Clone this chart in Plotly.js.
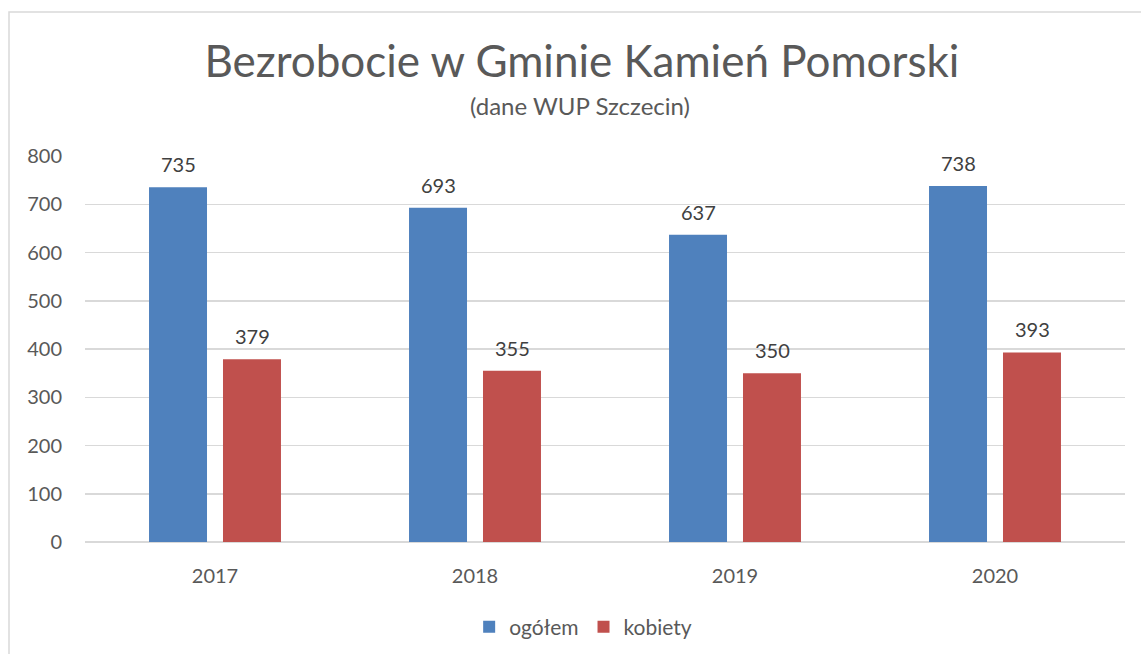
<!DOCTYPE html>
<html><head><meta charset="utf-8">
<script src="https://cdn.plot.ly/plotly-3.0.1.min.js"></script>
<style>html,body{margin:0;padding:0;background:#fff}#chart{width:1141px;height:654px}</style>
</head><body><div id="chart"></div>
<script>
const years = ['2017', '2018', '2019', '2020'];
const ogolem = [735, 693, 637, 738];
const kobiety = [379, 355, 350, 393];
const seriesNames = ['ogółem', 'kobiety'];
const colors = ['#4F81BD', '#C0504D'];
const FONT = 'Lato, "Open Sans", sans-serif';

const traces = [ogolem, kobiety].map((vals, i) => ({
  type: 'bar', x: years, y: vals, name: seriesNames[i],
  marker: {color: colors[i]}, hoverinfo: 'skip'
}));

const annotations = [];
[ogolem, kobiety].forEach((vals, i) => {
  vals.forEach((v, j) => {
    annotations.push({
      x: j, y: v, xref: 'x', yref: 'y', text: String(v), showarrow: false,
      xshift: i === 0 ? -37 : 37, yshift: 23, yanchor: 'middle',
      font: {family: FONT, size: 20, color: '#404040'}
    });
  });
});
annotations.push({
  xref: 'paper', yref: 'paper', x: 0.476, y: (542 - 105) / 386, xanchor: 'center', yanchor: 'middle',
  text: '(dane WUP Szczecin)', showarrow: false,
  font: {family: FONT, size: 24, color: '#595959'}
});

const layout = {
  width: 1141, height: 654,
  margin: {l: 85, r: 16, t: 156, b: 112, autoexpand: false},
  paper_bgcolor: '#fff', plot_bgcolor: '#fff',
  title: {text: 'Bezrobocie w Gminie Kamień Pomorski', x: 0.51, xref: 'container', y: 1 - 62/654, yref: 'container', yanchor: 'middle', xanchor: 'center',
          font: {family: FONT, size: 44, color: '#595959'}},
  barmode: 'group', bargap: 0.431, bargroupgap: 0.216,
  xaxis: {type: 'category', showgrid: false, showline: false, ticks: '', zeroline: false, automargin: false,
          tickfont: {family: FONT, size: 20, color: '#595959'}, ticklabelstandoff: 20},
  yaxis: {range: [0, 800], dtick: 100, tick0: 0, showgrid: true, gridcolor: '#d9d9d9', gridwidth: 1.5, automargin: false,
          zeroline: true, zerolinecolor: '#d9d9d9', zerolinewidth: 1.5, showline: false, ticks: '',
          tickfont: {family: FONT, size: 20, color: '#595959'}, ticklabelstandoff: 22},
  showlegend: true,
  legend: {orientation: 'h', x: 0.479, xanchor: 'center', y: (542 - 627) / 386, yanchor: 'middle',
           font: {family: FONT, size: 21, color: '#595959'}, itemwidth: 30, traceorder: 'normal'},
  shapes: [{type: 'rect', xref: 'paper', yref: 'paper', x0: (9 - 85) / 1040, x1: (1160 - 85) / 1040,
            y0: (542 - 680) / 386, y1: (542 - 12) / 386, line: {color: '#d9d9d9', width: 1.5}, fillcolor: 'rgba(0,0,0,0)', layer: 'below'}],
  annotations: annotations
};
Plotly.newPlot('chart', traces, layout, {displayModeBar: false, staticPlot: true});
</script></body></html>
